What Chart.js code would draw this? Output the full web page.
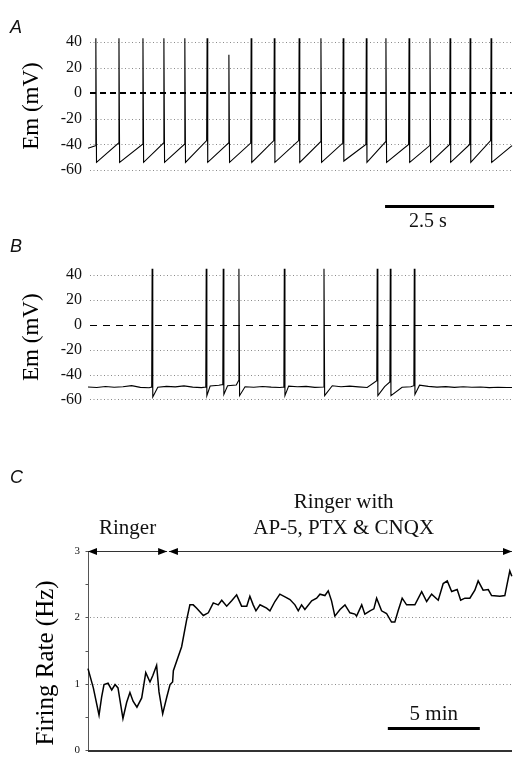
<!DOCTYPE html>
<html><head><meta charset="utf-8">
<script src="https://cdn.jsdelivr.net/npm/chart.js@4.4.1/dist/chart.umd.min.js"></script>
<style>
html,body{margin:0;padding:0;background:#fff;}
#wrap{position:relative;width:513px;height:765px;overflow:hidden;background:#fff}
canvas{position:absolute;left:0}
</style></head><body>
<div id="wrap">
<canvas id="cA" width="513" height="235" style="top:0;width:513px;height:235px"></canvas>
<canvas id="cB" width="513" height="180" style="top:235px;width:513px;height:180px"></canvas>
<canvas id="cC" width="513" height="350" style="top:415px;width:513px;height:350px"></canvas>
</div>
<script>
// ---------- Panel A : regular firing (time s, Em mV) ----------
const aTimeMax = 9.72;
const aSpikeT  = [0.18,0.71,1.26,1.74,2.22,2.73,3.23,3.74,4.27,4.84,5.34,5.85,6.38,6.83,7.36,7.84,8.30,8.76,9.24];
const aPeak    = [43,43,43,43,43,43,30,43,43,43,43,43,43,43,43,43,43,43,43];
const aPre     = [-41,-39,-40,-39,-40,-37,-39,-39,-37,-37,-38,-39,-40,-38,-40,-41,-40,-40,-37];
const aTrough  = [-54,-54,-54,-54,-54,-54,-54,-54,-54,-54,-54,-53,-54,-54,-54,-54,-54,-54,-54];
const aStartEm = -43;
const aEndEm   = -41;
const emTicks  = [-60,-40,-20,0,20,40];

// ---------- Panel B : irregular firing ----------
const bTimeMax = 9.72;
const bSpikeT  = [1.47,2.71,3.10,3.46,4.50,5.41,6.63,6.93,7.48];
const bPeak    = [45,45,45,45,45,45,45,45,45];
const bPre     = [-50,-50,-48,-45,-50,-50,-45,-46,-49];
const bTrough  = [-58,-57,-56,-57,-57,-57,-57,-57,-56];
const bBaseStep = 0.2;
const bBase    = [-50,-50.4,-49.6,-50.2,-49.8,-48.9,-50.3,-50.6,-50.2,-49.5,-49.9,-49.1,-50.1,-50.5,-49.2,-48.6,-49.0,-48.5,-49.8,-50.2,-49.6,-50.1,-50.4,-49.3,-49.8,-49.5,-50.3,-50.1,-49.0,-49.8,-49.3,-49.9,-50.4,-49.6,-49.7,-49.2,-50.2,-49.8,-48.6,-49.5,-50.1,-49.7,-50.3,-49.8,-50.2,-50.0,-50.5,-50.2,-50.4];

// ---------- Panel C : firing rate (time min, Hz) ----------
const cTimeMax = 23.05;
const cTime = [0,0.29,0.6,0.74,0.87,1.09,1.29,1.47,1.63,1.9,2.1,2.28,2.45,2.66,2.92,3.14,3.37,3.53,3.73,3.86,4.06,4.28,4.46,4.6,4.64,5.09,5.36,5.54,5.72,5.91,6.27,6.54,6.81,7.08,7.27,7.54,7.81,8.08,8.35,8.63,8.8,8.98,9.13,9.35,9.71,9.89,10.16,10.43,10.71,10.98,11.25,11.43,11.61,11.79,12.16,12.43,12.61,12.88,13.06,13.24,13.42,13.7,13.97,14.24,14.51,14.6,14.88,15.05,15.33,15.54,15.69,15.96,16.23,16.5,16.68,16.86,17.08,17.32,17.59,17.77,18.14,18.41,18.68,19.04,19.31,19.53,19.77,20.07,20.26,20.49,20.76,21.03,21.21,21.48,21.76,21.94,22.39,22.66,22.79,22.93,23.04];
const cRate = [1.23,0.94,0.53,0.80,0.99,1.01,0.91,0.99,0.94,0.48,0.72,0.87,0.74,0.65,0.79,1.17,1.03,1.13,1.28,0.88,0.55,0.80,0.99,1.03,1.20,1.56,1.96,2.19,2.19,2.14,2.03,2.07,2.22,2.19,2.26,2.17,2.25,2.34,2.17,2.17,2.32,2.19,2.10,2.19,2.14,2.10,2.24,2.35,2.31,2.27,2.19,2.10,2.19,2.12,2.25,2.29,2.35,2.33,2.40,2.25,2.02,2.12,2.19,2.07,2.05,2.02,2.19,2.05,2.10,2.13,2.29,2.10,2.06,1.93,1.93,2.10,2.29,2.19,2.19,2.19,2.39,2.24,2.35,2.26,2.51,2.55,2.39,2.42,2.26,2.29,2.29,2.41,2.55,2.41,2.42,2.33,2.32,2.33,2.51,2.70,2.62];
const rateTicks = [0,1,2,3];
const rateMinor = [0.5,1.5,2.5];
const conditionLabels = ['Ringer','Ringer with','AP-5, PTX & CNQX'];
const conditionSpans = [[0,4.3],[4.4,23.05]];

const SERIF = '"Liberation Serif","Times New Roman",serif';
const SANS = '"Liberation Sans",Arial,sans-serif';

// ----- build traces from the read values -----
const aPts = [{x:0,y:aStartEm}];
aSpikeT.forEach((t,i)=>{
  aPts.push({x:t-0.01,y:aPre[i]},{x:t,y:aPeak[i]},{x:t+0.015,y:aTrough[i]});
});
aPts.push({x:aTimeMax,y:aEndEm});

const bPts = [];
bBase.forEach((v,i)=>{
  const t=i*bBaseStep;
  if (!bSpikeT.some(s=>t>s-0.03 && t<s+0.08)) bPts.push({x:t,y:v});
});
bSpikeT.forEach((t,i)=>{
  bPts.push({x:t-0.01,y:bPre[i]},{x:t,y:bPeak[i]},{x:t+0.015,y:bTrough[i]});
});
bPts.push({x:bTimeMax,y:bBase[bBase.length-1]});
bPts.sort((p,q)=>p.x-q.x);

const cPts = cTime.map((t,i)=>({x:t,y:cRate[i]}));

// ----- decoration plugin -----
function makeDecor(cfg){
  return {
    id:'decor',
    beforeDatasetsDraw(chart){
      const {ctx, chartArea:ca} = chart; const x=chart.scales.x, y=chart.scales.y;
      ctx.save();
      ctx.lineWidth=1; ctx.strokeStyle='#8a8a8a'; ctx.setLineDash([1,2.5]);
      (cfg.dotted||[]).forEach(v=>{
        const py=Math.round(y.getPixelForValue(v))+0.5;
        ctx.beginPath(); ctx.moveTo(ca.left+2,py); ctx.lineTo(ca.right,py); ctx.stroke();
      });
      if (cfg.zeroDash){
        ctx.setLineDash(cfg.zeroDash); ctx.lineWidth=cfg.zeroWidth; ctx.strokeStyle='#000';
        const py=Math.round(y.getPixelForValue(0))+(cfg.zeroWidth%2?0.5:0);
        ctx.beginPath(); ctx.moveTo(ca.left+2,py); ctx.lineTo(ca.right,py); ctx.stroke();
      }
      if (cfg.axes){
        ctx.setLineDash([]);
        ctx.strokeStyle='#555'; ctx.lineWidth=1;
        const lx=Math.round(ca.left)+0.5;
        ctx.beginPath(); ctx.moveTo(lx,y.getPixelForValue(0)); ctx.lineTo(lx,y.getPixelForValue(3)); ctx.stroke();
        rateTicks.concat(rateMinor).forEach(v=>{
          const py=Math.round(y.getPixelForValue(v))+0.5;
          ctx.beginPath(); ctx.moveTo(lx-3,py); ctx.lineTo(lx,py); ctx.stroke();
        });
        ctx.strokeStyle='#333'; ctx.lineWidth=2;
        const by=Math.round(y.getPixelForValue(0))+1;
        ctx.beginPath(); ctx.moveTo(ca.left,by); ctx.lineTo(ca.right,by); ctx.stroke();
      }
      ctx.restore();
    },
    afterDraw(chart){
      const {ctx} = chart; const x=chart.scales.x, y=chart.scales.y;
      ctx.save();
      if (cfg.letter){
        ctx.fillStyle='#111'; ctx.font='italic 18px '+SANS; ctx.textAlign='left'; ctx.textBaseline='alphabetic';
        ctx.fillText(cfg.letter.text, cfg.letter.px, cfg.letter.py);
      }
      if (cfg.yTitle){
        const t=cfg.yTitle;
        ctx.save(); ctx.translate(t.cx, t.cy); ctx.rotate(-Math.PI/2);
        ctx.fillStyle='#000'; ctx.font=t.size+'px '+SERIF; ctx.textAlign='center'; ctx.textBaseline='middle';
        ctx.fillText(t.text,0,0); ctx.restore();
      }
      if (cfg.bar){
        const b=cfg.bar; ctx.strokeStyle='#000'; ctx.lineWidth=3; ctx.setLineDash([]);
        const py=y.getPixelForValue(b.y);
        ctx.beginPath(); ctx.moveTo(x.getPixelForValue(b.x0),py); ctx.lineTo(x.getPixelForValue(b.x1),py); ctx.stroke();
      }
      if (cfg.arrows){
        ctx.strokeStyle='#333'; ctx.fillStyle='#000'; ctx.lineWidth=1;
        const py=Math.round(y.getPixelForValue(cfg.arrows.y))+0.5;
        cfg.arrows.spans.forEach(([a,b])=>{
          const x0=x.getPixelForValue(a), x1=x.getPixelForValue(b);
          ctx.beginPath(); ctx.moveTo(x0,py); ctx.lineTo(x1,py); ctx.stroke();
          ctx.beginPath(); ctx.moveTo(x0,py); ctx.lineTo(x0+9,py-3.5); ctx.lineTo(x0+9,py+3.5); ctx.closePath(); ctx.fill();
          ctx.beginPath(); ctx.moveTo(x1,py); ctx.lineTo(x1-9,py-3.5); ctx.lineTo(x1-9,py+3.5); ctx.closePath(); ctx.fill();
        });
      }
      (cfg.texts||[]).forEach(t=>{
        ctx.fillStyle='#111'; ctx.font=t.size+'px '+SERIF; ctx.textAlign='center'; ctx.textBaseline='alphabetic';
        ctx.fillText(t.text, x.getPixelForValue(t.x), y.getPixelForValue(t.y));
      });
      ctx.restore();
    }
  };
}

function makeChart(id, pts, xMax, yMin, yMax, ticks, tickFont, tickPad, title, titleSize, titlePad, pad, lineW, decorCfg){
  return new Chart(document.getElementById(id), {
    type:'line',
    data:{datasets:[{data:pts, borderColor:'#000', borderWidth:lineW, pointRadius:0, tension:0, clip:false, fill:false}]},
    options:{
      responsive:false, animation:false, devicePixelRatio:1,
      layout:{padding:pad},
      plugins:{legend:{display:false}, tooltip:{enabled:false}},
      scales:{
        x:{type:'linear', min:0, max:xMax, display:false},
        y:{type:'linear', min:yMin, max:yMax,
           afterBuildTicks:(s)=>{ s.ticks = ticks.map(v=>({value:v})); },
           afterFit:(s)=>{ s.width = 88; },
           grid:{display:false, drawTicks:false}, border:{display:false},
           ticks:{color:'#111', font:{family:SERIF, size:tickFont}, padding:tickPad},
           title:{display:!!title, text:title||'', color:'#000', font:{family:SERIF, size:titleSize}, padding:{top:titlePad, bottom:0}}
        }
      }
    },
    plugins:[makeDecor(decorCfg)]
  });
}

makeChart('cA', aPts, aTimeMax, -60, 40, emTicks, 16, 6, 'Em (mV)', 23, 18,
  {top:42,bottom:65,left:0,right:1}, 1.1,
  {dotted:[-60,-40,-20,20,40], zeroDash:[6,4], zeroWidth:2,
   letter:{text:'A',px:10,py:33},
   bar:{x0:6.81,x1:9.31,y:-88.5},
   texts:[{text:'2.5 s',x:7.79,y:-104.5,size:20}]});

makeChart('cB', bPts, bTimeMax, -60, 40, emTicks, 16, 6, 'Em (mV)', 23, 18,
  {top:40,bottom:13,left:0,right:1}, 1.1,
  {dotted:[-60,-40,-20,20,40], zeroDash:[7,6], zeroWidth:1,
   letter:{text:'B',px:10,py:17}});

makeChart('cC', cPts, cTimeMax, 0, 3, rateTicks, 11, 8, '', 25, 31,
  {top:136,bottom:7,left:0,right:1}, 1.5,
  {dotted:[1,2], axes:true,
   letter:{text:'C',px:10,py:68},
   yTitle:{text:'Firing Rate (Hz)', cx:46, cy:248, size:25},
   arrows:{y:3, spans:conditionSpans},
   bar:{x0:16.3,x1:21.3,y:0.33},
   texts:[{text:'5 min',x:18.8,y:0.46,size:21},
          {text:conditionLabels[0],x:2.15,y:3.26,size:21},
          {text:conditionLabels[1],x:13.9,y:3.64,size:21},
          {text:conditionLabels[2],x:13.9,y:3.26,size:21}]});
</script>
</body></html>
